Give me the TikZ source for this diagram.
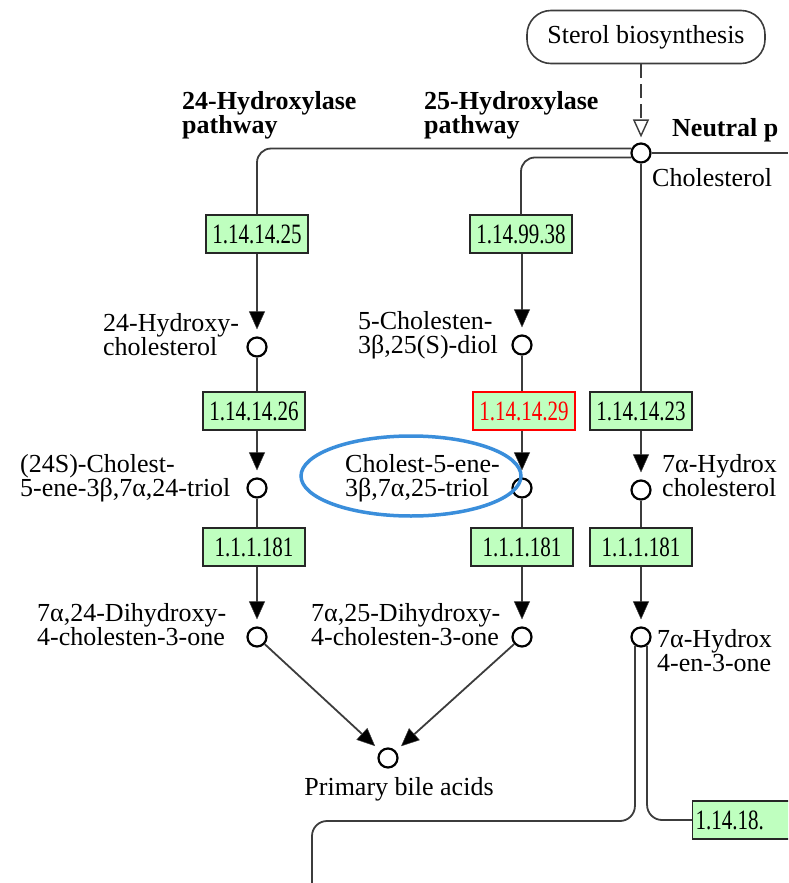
\documentclass[tikz,border=0pt]{standalone}
\usepackage{fontspec}
\setmainfont{Liberation Serif}
\usepackage{graphicx}
\usetikzlibrary{arrows.meta,shapes.geometric}
\definecolor{ecgreen}{HTML}{BFFFBF}
\definecolor{hlblue}{HTML}{3A8EDB}
\definecolor{linegray}{HTML}{3C3C3C}
\newcommand\lblfont{\fontsize{26}{24}\selectfont}
\newcommand\ecfont{\fontsize{28}{27}\selectfont}
\newcommand\ectxt[1]{\scalebox{0.75}[1]{#1}}
\begin{document}
\begin{tikzpicture}[x=1pt,y=-1pt,
  ecbox/.style={draw=black!85, fill=ecgreen, line width=1.4pt, minimum width=102pt, minimum height=38pt, inner sep=0pt, font=\ecfont},
  redbox/.style={ecbox, draw=red, text=red},
  cpd/.style={circle, draw=black, fill=white, line width=2.2pt, minimum size=19pt, inner sep=0pt},
  lbl/.style={align=left, font=\lblfont, inner sep=0pt, anchor=north west},
  ttl/.style={lbl, font=\lblfont\bfseries},
  conn/.style={draw=linegray, line width=1.8pt},
  arr/.style={conn, -{Triangle[width=16pt,length=18pt,fill=black,line width=0.5pt]}, shorten >=7pt},
  ]
\useasboundingbox (0,0) rectangle (788,883);
\begin{scope}
\clip (0,0) rectangle (788,883);
% pathway box
\node[draw=linegray, line width=1.6pt, rounded corners=24pt, minimum width=238pt, minimum height=53pt, font=\lblfont] (sb) at (646,37) {Sterol biosynthesis};
% compounds
\node[cpd] (c0) at (641,153) {};
\node[cpd] (a1) at (257,347) {};
\node[cpd] (a2) at (257,488) {};
\node[cpd] (a3) at (257,637) {};
\node[cpd] (b1) at (522,345) {};
\node[cpd] (b2) at (522,488) {};
\node[cpd] (b3) at (522,637) {};
\node[cpd] (r1) at (641,490) {};
\node[cpd] (r2) at (641,637) {};
\node[cpd] (p) at (388,758) {};
% enzymes
\node[ecbox] (e1) at (257,234) {\ectxt{1.14.14.25}};
\node[ecbox] (e2) at (521,234) {\ectxt{1.14.99.38}};
\node[ecbox] (e4) at (254,411) {\ectxt{1.14.14.26}};
\node[redbox] (e5) at (524,411) {\ectxt{1.14.14.29}};
\node[ecbox] (e3) at (641,411) {\ectxt{1.14.14.23}};
\node[ecbox] (e6) at (254,547) {\ectxt{1.1.1.181}};
\node[ecbox] (e7) at (522,547) {\ectxt{1.1.1.181}};
\node[ecbox] (e8) at (641,547) {\ectxt{1.1.1.181}};
\node[ecbox, anchor=west, minimum width=0pt, text width=100pt, align=left, inner xsep=3pt] (e9) at (692,820) {\ectxt{1.14.18.}};
% highlight
\node[ellipse, draw=hlblue, line width=3.5pt, minimum width=220pt, minimum height=80pt] (hl) at (411,476) {};
% labels
\node[ttl] (t1) at (182,91) {24-Hydroxylase\\pathway};
\node[ttl] (t2) at (424,91) {25-Hydroxylase\\pathway};
\node[ttl] (t3) at (672,118) {Neutral p};
\node[lbl] (n0) at (652,168) {Cholesterol};
\node[lbl] (na1) at (103,313) {24-Hydroxy-\\cholesterol};
\node[lbl] (na2) at (20,454) {(24S)-Cholest-\\5-ene-3β,7α,24-triol};
\node[lbl] (na3) at (37,603) {7α,24-Dihydroxy-\\4-cholesten-3-one};
\node[lbl] (nb1) at (358,311) {5-Cholesten-\\3β,25(S)-diol};
\node[lbl] (nb2) at (345,454) {Cholest-5-ene-\\3β,7α,25-triol};
\node[lbl] (nb3) at (311,603) {7α,25-Dihydroxy-\\4-cholesten-3-one};
\node[lbl] (nr1) at (662,454) {7α-Hydrox\\cholesterol};
\node[lbl] (nr2) at (657,629) {7α-Hydrox\\4-en-3-one};
\node[lbl, anchor=north] (np) at (399,777) {Primary bile acids};
% coordinates
\coordinate (redge) at (788,153);
\coordinate (k1) at (312,821);
\coordinate (bot) at (312,883);
% connectors
\draw[conn, dash pattern=on 14pt off 6pt, -{Triangle[open,fill=white,width=16pt,length=18pt,line width=1.4pt]}, shorten >=5pt] (sb.south -| c0) -- (c0);
\draw[conn, rounded corners=14pt] (c0.155) -| (e1);
\draw[conn, rounded corners=14pt] (c0.205) -| (e2);
\draw[conn] (c0) -- (redge);
\draw[conn] (c0) -- (e3);
\draw[arr] (e1) -- (a1);
\draw[conn] (a1) -- (e4.north -| a1);
\draw[arr] (e4.south -| a2) -- (a2);
\draw[conn] (a2) -- (e6.north -| a2);
\draw[arr] (e6.south -| a3) -- (a3);
\draw[arr] (e2.south -| b1) -- (b1);
\draw[conn] (b1) -- (e5.north -| b1);
\draw[arr] (e5.south -| b2) -- (b2);
\draw[conn] (b2) -- (e7);
\draw[arr] (e7) -- (b3);
\draw[arr] (e3) -- (r1);
\draw[conn] (r1) -- (e8);
\draw[arr] (e8) -- (r2);
\draw[arr] (a3) -- (p);
\draw[arr] (b3) -- (p);
\draw[conn, rounded corners=15pt] (r2.235) |- (k1) -- (bot);
\draw[conn, rounded corners=15pt] (r2.305) |- (e9);
\end{scope}
\end{tikzpicture}
\end{document}
